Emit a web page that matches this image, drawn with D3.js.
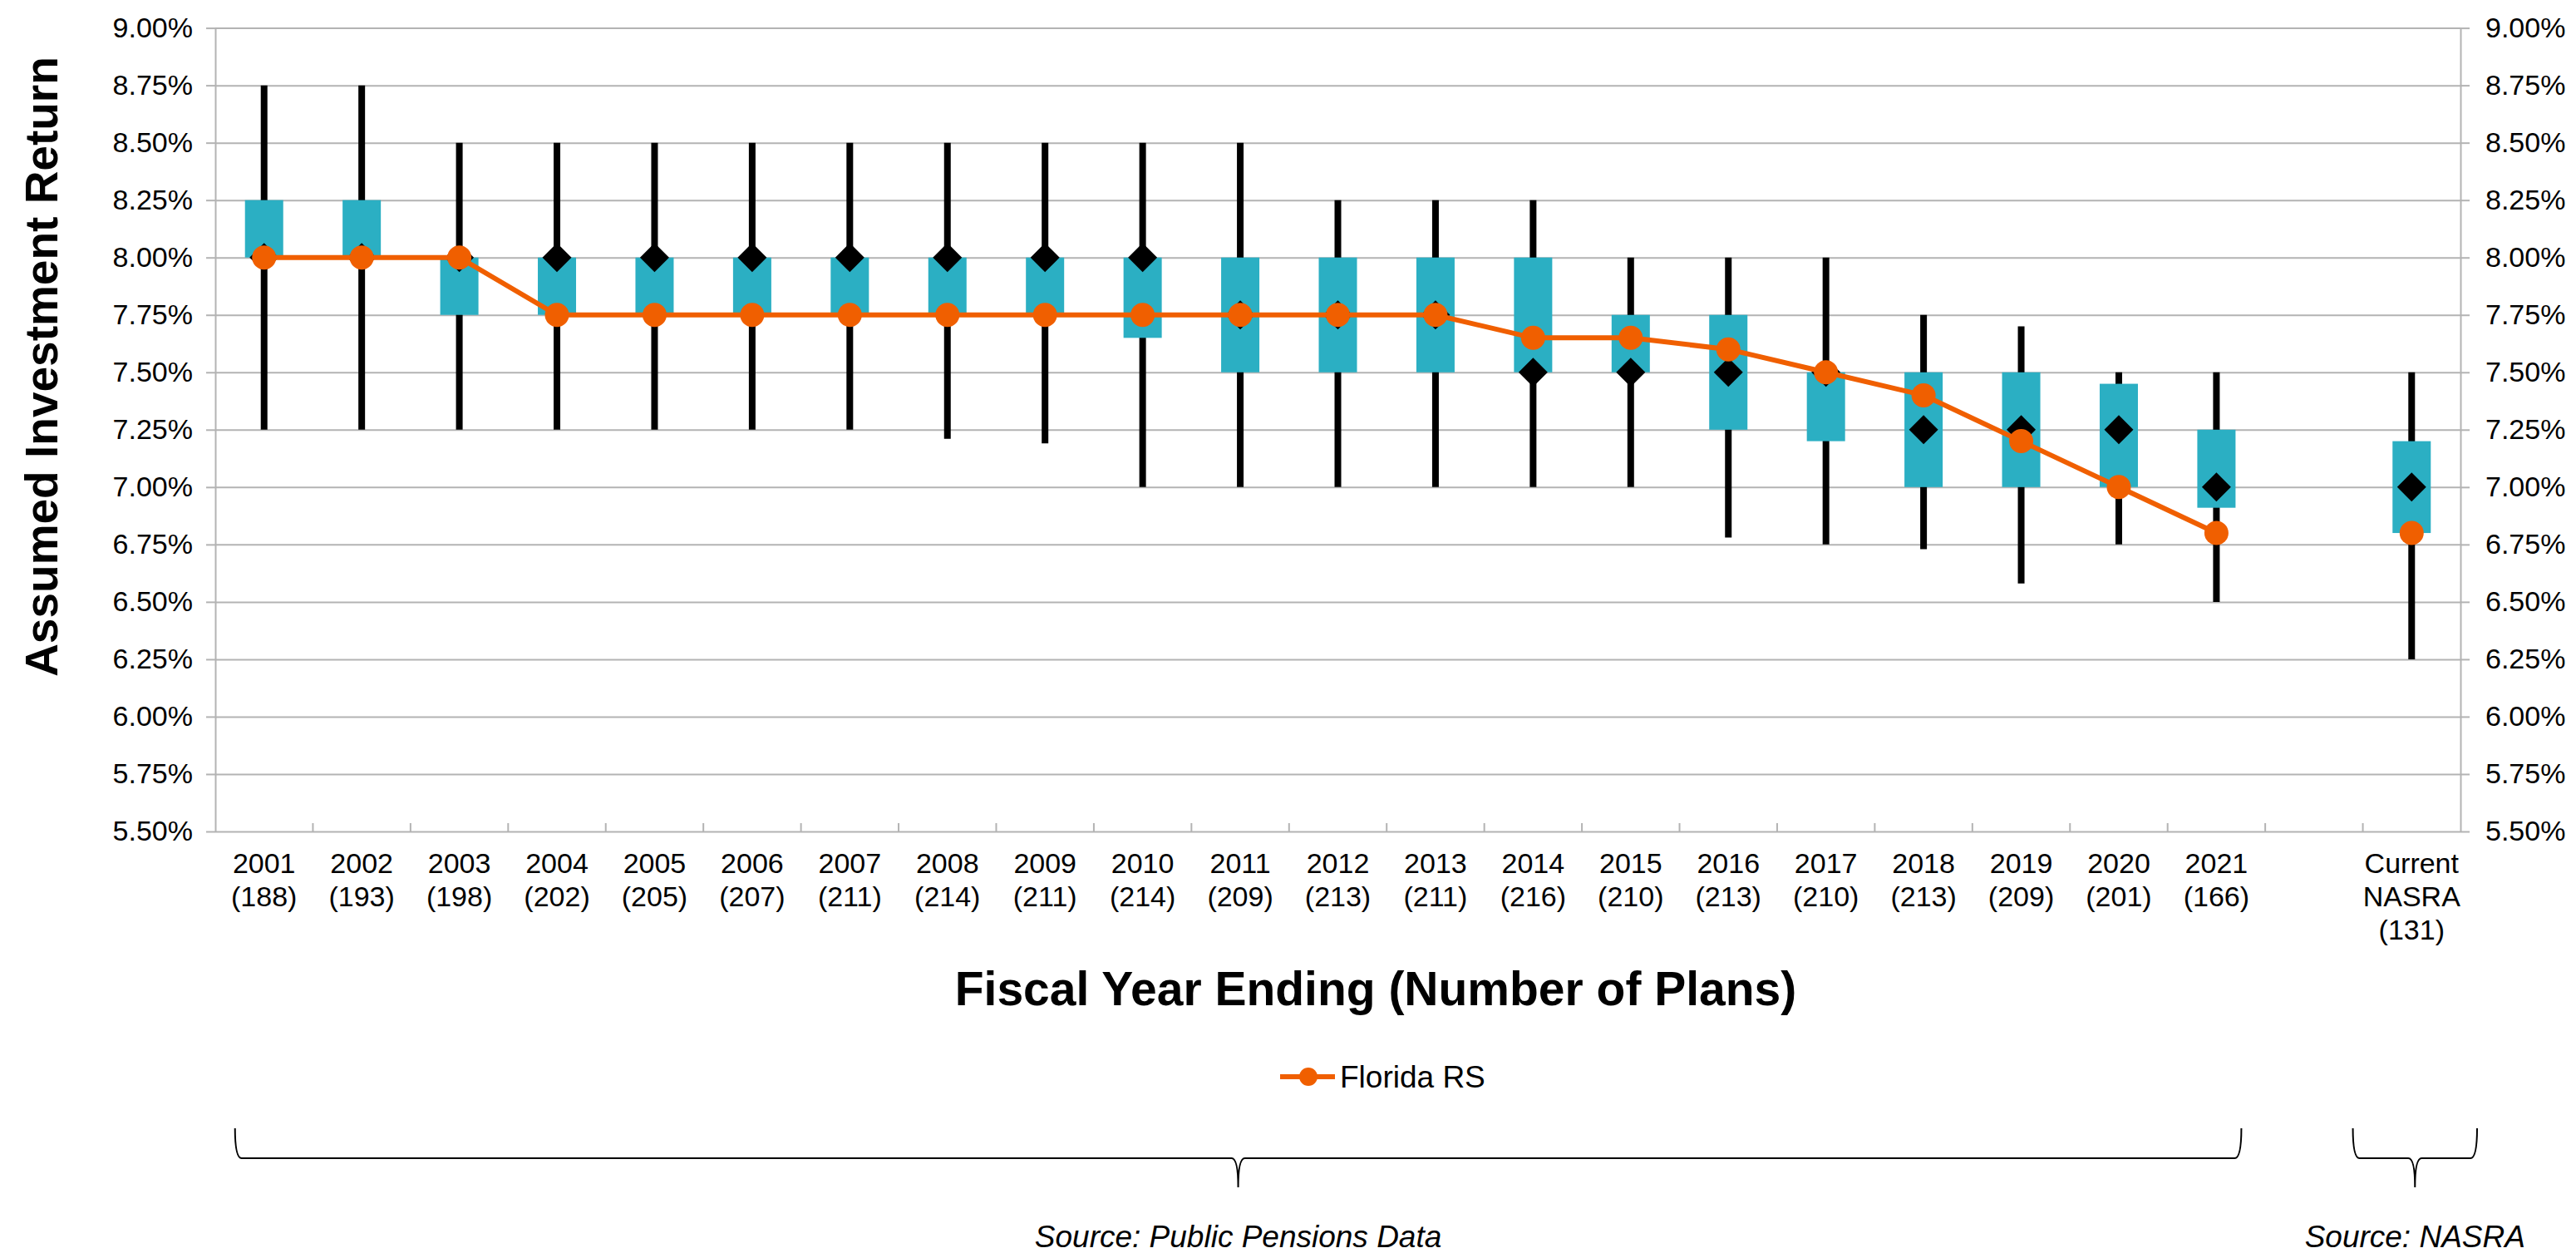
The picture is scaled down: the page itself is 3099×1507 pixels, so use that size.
<!DOCTYPE html>
<html>
<head>
<meta charset="utf-8">
<script src="https://cdn.jsdelivr.net/npm/d3@7"></script>
<style>
  body { margin: 0; background: #fff; }
  svg { display: block; }
  text { font-family: "Liberation Sans", Arial, sans-serif; fill: #000; }
</style>
</head>
<body>
<div id="chart"></div>
<script>
// categories: fiscal years, an empty slot, then the current NASRA column
const categories = ['2001', '2002', '2003', '2004', '2005', '2006', '2007', '2008', '2009', '2010',
  '2011', '2012', '2013', '2014', '2015', '2016', '2017', '2018', '2019', '2020', '2021', 'gap', 'Current'];
const planCounts = [188, 193, 198, 202, 205, 207, 211, 214, 211, 214,
  209, 213, 211, 216, 210, 213, 210, 213, 209, 201, 166, null, 131];

// ranges (percent)
const whiskerLow = [7.25, 7.25, 7.25, 7.25, 7.25, 7.25, 7.25, 7.21, 7.19, 7.00,
  7.00, 7.00, 7.00, 7.00, 7.00, 6.78, 6.75, 6.73, 6.58, 6.75, 6.50, null, 6.25];
const whiskerHigh = [8.75, 8.75, 8.50, 8.50, 8.50, 8.50, 8.50, 8.50, 8.50, 8.50,
  8.50, 8.25, 8.25, 8.25, 8.00, 8.00, 8.00, 7.75, 7.70, 7.50, 7.50, null, 7.50];
const boxLow = [8.00, 8.00, 7.75, 7.75, 7.75, 7.75, 7.75, 7.75, 7.75, 7.65,
  7.50, 7.50, 7.50, 7.50, 7.50, 7.25, 7.20, 7.00, 7.00, 7.00, 6.91, null, 6.80];
const boxHigh = [8.25, 8.25, 8.00, 8.00, 8.00, 8.00, 8.00, 8.00, 8.00, 8.00,
  8.00, 8.00, 8.00, 8.00, 7.75, 7.75, 7.50, 7.50, 7.50, 7.45, 7.25, null, 7.20];
const median = [8.00, 8.00, 8.00, 8.00, 8.00, 8.00, 8.00, 8.00, 8.00, 8.00,
  7.75, 7.75, 7.75, 7.50, 7.50, 7.50, 7.50, 7.25, 7.25, 7.25, 7.00, null, 7.00];
const floridaRS = [8.00, 8.00, 8.00, 7.75, 7.75, 7.75, 7.75, 7.75, 7.75, 7.75,
  7.75, 7.75, 7.75, 7.65, 7.65, 7.60, 7.50, 7.40, 7.20, 7.00, 6.80, null, 6.80];

const yTicks = [5.50, 5.75, 6.00, 6.25, 6.50, 6.75, 7.00, 7.25, 7.50, 7.75, 8.00, 8.25, 8.50, 8.75, 9.00];

const width = 3099;
const height = 1507;
const teal = '#2bafc3';
const orange = '#f05f00';
const gridGray = '#b3b3b3';

const svg = d3.select('#chart').append('svg')
  .attr('width', width)
  .attr('height', height);

const x = d3.scaleBand().domain(categories).range([259, 2960]);
const y = d3.scaleLinear().domain([5.5, 9.0]).range([1000, 33.6]);
const plotW = x.range()[1] - x.range()[0];
const cx = c => x(c) + x.bandwidth() / 2;
const fmt = d => d3.format('.2f')(d) + '%';

const rows = categories.map((c, i) => ({
  cat: c, n: planCounts[i],
  lo: whiskerLow[i], hi: whiskerHigh[i],
  q1: boxLow[i], q3: boxHigh[i],
  med: median[i], fl: floridaRS[i]
}));
const filled = rows.filter(d => d.lo != null);

// gridlines
svg.append('g')
  .attr('transform', `translate(${x.range()[0]},0)`)
  .call(d3.axisLeft(y).tickValues(yTicks).tickSize(-plotW).tickFormat(''))
  .call(g => g.select('.domain').remove())
  .selectAll('line').attr('stroke', gridGray).attr('stroke-width', 2);

// left and right axes
function styleAxis(g) {
  g.select('.domain').attr('stroke', gridGray).attr('stroke-width', 2);
  g.selectAll('.tick line').attr('stroke', gridGray).attr('stroke-width', 2);
  g.selectAll('.tick text').attr('font-size', 34).attr('fill', '#000')
    .attr('font-family', '"Liberation Sans", Arial, sans-serif');
}
svg.append('g')
  .attr('transform', `translate(${x.range()[0]},0)`)
  .call(d3.axisLeft(y).tickValues(yTicks).tickSize(11).tickSizeOuter(0).tickPadding(16).tickFormat(fmt))
  .call(styleAxis);
svg.append('g')
  .attr('transform', `translate(${x.range()[1]},0)`)
  .call(d3.axisRight(y).tickValues(yTicks).tickSize(11).tickSizeOuter(0).tickPadding(19).tickFormat(fmt))
  .call(styleAxis);

// category boundary ticks on the bottom axis (pointing up)
svg.append('g').selectAll('line')
  .data(categories.slice(1))
  .join('line')
  .attr('x1', d => x(d)).attr('x2', d => x(d))
  .attr('y1', y(5.5)).attr('y2', y(5.5) - 10)
  .attr('stroke', gridGray).attr('stroke-width', 2);

// category labels
const labelLines = d => d.cat === 'gap' ? [] :
  d.cat === 'Current' ? ['Current', 'NASRA', `(${d.n})`] : [d.cat, `(${d.n})`];
svg.append('g').selectAll('text')
  .data(rows)
  .join('text')
  .attr('text-anchor', 'middle')
  .attr('font-size', 34)
  .attr('x', d => cx(d.cat))
  .attr('y', 1050)
  .selectAll('tspan')
  .data(d => labelLines(d).map(t => ({ t, x: cx(d.cat) })))
  .join('tspan')
  .attr('x', d => d.x)
  .attr('dy', (d, i) => i === 0 ? 0 : 40)
  .text(d => d.t);

// whiskers
svg.append('g').selectAll('line')
  .data(filled)
  .join('line')
  .attr('x1', d => cx(d.cat)).attr('x2', d => cx(d.cat))
  .attr('y1', d => y(d.hi)).attr('y2', d => y(d.lo))
  .attr('stroke', '#000').attr('stroke-width', 8);

// boxes
const boxW = 46;
svg.append('g').selectAll('rect')
  .data(filled)
  .join('rect')
  .attr('x', d => cx(d.cat) - boxW / 2)
  .attr('width', boxW)
  .attr('y', d => y(d.q3))
  .attr('height', d => y(d.q1) - y(d.q3))
  .attr('fill', teal);

// median diamonds
const diamond = d3.symbol(d3.symbolSquare, 612);
svg.append('g').selectAll('path')
  .data(filled)
  .join('path')
  .attr('d', diamond)
  .attr('transform', d => `translate(${cx(d.cat)},${y(d.med)}) rotate(45)`)
  .attr('fill', '#000');

// Florida RS line and markers
const line = d3.line()
  .defined(d => d.fl != null)
  .x(d => cx(d.cat))
  .y(d => y(d.fl));
svg.append('path')
  .datum(rows)
  .attr('d', line)
  .attr('fill', 'none')
  .attr('stroke', orange)
  .attr('stroke-width', 6);
svg.append('g').selectAll('circle')
  .data(rows.filter(d => d.fl != null))
  .join('circle')
  .attr('cx', d => cx(d.cat))
  .attr('cy', d => y(d.fl))
  .attr('r', 14.5)
  .attr('fill', orange);

// axis titles
svg.append('text')
  .attr('transform', 'translate(50,441) rotate(-90)')
  .attr('text-anchor', 'middle')
  .attr('dy', '0.35em')
  .attr('font-size', 55)
  .attr('font-weight', 'bold')
  .text('Assumed Investment Return');

svg.append('text')
  .attr('x', 1655)
  .attr('y', 1209)
  .attr('text-anchor', 'middle')
  .attr('font-size', 57)
  .attr('font-weight', 'bold')
  .text('Fiscal Year Ending (Number of Plans)');

// legend
const legend = svg.append('g').attr('transform', 'translate(1540,1295)');
legend.append('line')
  .attr('x1', 0).attr('x2', 66)
  .attr('stroke', orange).attr('stroke-width', 6);
legend.append('circle')
  .attr('cx', 34).attr('r', 11).attr('fill', orange);
legend.append('text')
  .attr('x', 72)
  .attr('dy', '0.35em')
  .attr('font-size', 37)
  .text('Florida RS');

// braces and source notes
function brace(x0, x1, tipX, yTop, yMid, yTip) {
  const r = 8;
  const p = d3.path();
  p.moveTo(x0, yTop);
  p.quadraticCurveTo(x0, yMid, x0 + r, yMid);
  p.lineTo(tipX - r, yMid);
  p.quadraticCurveTo(tipX, yMid, tipX, yTip);
  p.quadraticCurveTo(tipX, yMid, tipX + r, yMid);
  p.lineTo(x1 - r, yMid);
  p.quadraticCurveTo(x1, yMid, x1, yTop);
  return p.toString();
}
const bw = x.bandwidth();
const braces = [
  { x0: cx('2001') - 35, x1: cx('2021') + 30, note: 'Source: Public Pensions Data' },
  { x0: x('Current') - 12, x1: x('Current') + bw + 20, note: 'Source: NASRA' }
];
braces.forEach(b => {
  const tip = (b.x0 + b.x1) / 2;
  svg.append('path')
    .attr('d', brace(b.x0, b.x1, tip, 1357, 1393, 1428))
    .attr('fill', 'none')
    .attr('stroke', '#000')
    .attr('stroke-width', 2);
  svg.append('text')
    .attr('x', tip)
    .attr('y', 1500)
    .attr('text-anchor', 'middle')
    .attr('font-size', 37)
    .attr('font-style', 'italic')
    .text(b.note);
});
</script>
</body>
</html>
